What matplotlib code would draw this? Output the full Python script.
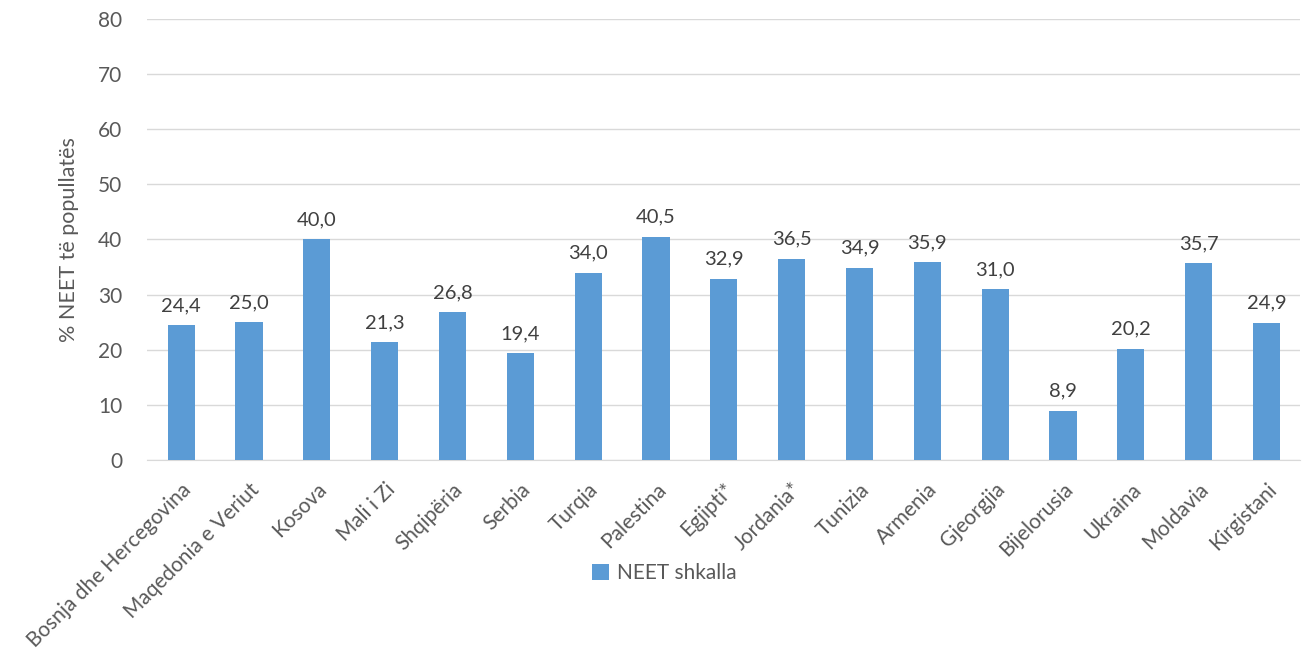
import matplotlib
matplotlib.use("Agg")
import matplotlib.pyplot as plt

countries = ["Bosnja dhe Hercegovina", "Maqedonia e Veriut", "Kosova", "Mali i Zi",
             "Shqipëria", "Serbia", "Turqia", "Palestina", "Egjipti*", "Jordania*",
             "Tunizia", "Armenia", "Gjeorgjia", "Bijelorusia", "Ukraina", "Moldavia",
             "Kirgistani"]
neet = [24.4, 25.0, 40.0, 21.3, 26.8, 19.4, 34.0, 40.5, 32.9, 36.5,
        34.9, 35.9, 31.0, 8.9, 20.2, 35.7, 24.9]

plt.rcParams["font.family"] = ["Lato", "DejaVu Sans"]
grey = "#595959"
blue = "#5B9BD5"

fig = plt.figure(figsize=(13.03, 6.56), dpi=100)
ax = fig.add_axes([0.113, 0.299, 0.885, 0.672])

x = range(len(countries))
bars = ax.bar(x, neet, width=0.4, color=blue, label="NEET shkalla", zorder=3)

for xi, v in zip(x, neet):
    ax.text(xi, v + 2.0, f"{v:.1f}".replace(".", ","), ha="center", va="bottom",
            fontsize=14.5, color="#404040")

ax.set_xlim(-0.5, len(countries) - 0.5)
ax.set_ylim(0, 80)
ax.set_yticks(range(0, 81, 10))
ax.grid(axis="y", color="#d9d9d9", linewidth=1, zorder=0)
for s in ["top", "right", "left"]:
    ax.spines[s].set_visible(False)
ax.spines["bottom"].set_color("#d9d9d9")
ax.tick_params(axis="both", length=0, colors=grey, labelsize=15)
ax.tick_params(axis="y", pad=18)
ax.tick_params(axis="x", pad=14)

ax.set_xticks(list(x))
ax.set_xticklabels(countries, rotation=45, ha="right", rotation_mode="anchor")
ax.set_ylabel("% NEET të popullatës", fontsize=15.5, color=grey, labelpad=14)

fig.legend(handles=[bars], labels=["NEET shkalla"], loc="center",
           bbox_to_anchor=(0.51, 0.126), frameon=False, fontsize=15,
           labelcolor=grey, handlelength=0.8, handleheight=0.8, handletextpad=0.4)

fig.savefig("out.png", dpi=100)
